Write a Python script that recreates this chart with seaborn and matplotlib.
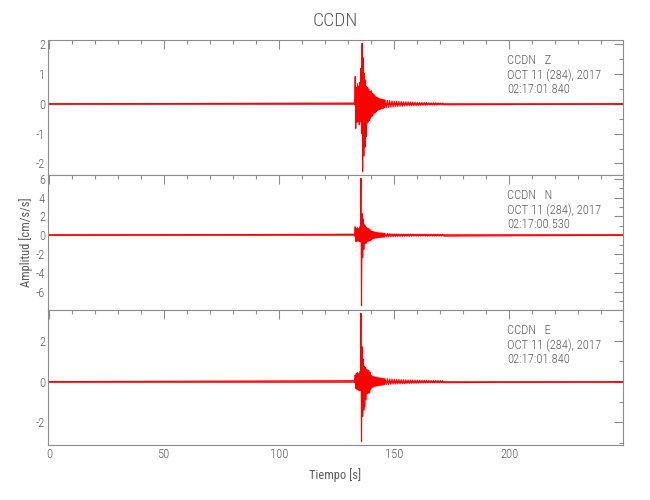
import numpy as np
import pandas as pd
import seaborn as sns
import matplotlib.pyplot as plt
from matplotlib.ticker import MultipleLocator

sns.set_style("white")
plt.rcParams.update(
    {
        "font.family": ["Roboto Condensed", "DejaVu Sans"],
        "font.stretch": "condensed",
        "font.weight": "light",
        "axes.unicode_minus": False,
    }
)

station = "CCDN"
components = ["Z", "N", "E"]
start_times = ["02:17:01.840", "02:17:00.530", "02:17:01.840"]
date_label = "OCT 11 (284), 2017"
t_end = 249.5

# sampling of the strong-motion part (s): 0.5 s steps, then 1 s steps in the coda
t_burst = np.r_[np.arange(132.5, 146.0, 0.5), np.arange(146.0, 172.0, 1.0)]

# upper / lower peaks (cm/s/s)
z_hi = [0.03, 0.92, 0.55, 0.68, 0.60, 0.72, 1.20, 2.04, 1.55, 1.03, 0.80, 0.58, 0.55,
        0.50, 0.42, 0.45, 0.36, 0.33, 0.30, 0.24, 0.22, 0.20, 0.18, 0.17, 0.16, 0.15, 0.14,
        0.13, 0.12, 0.11, 0.10, 0.09, 0.09, 0.08, 0.08, 0.07, 0.07, 0.07, 0.06, 0.06,
        0.06, 0.05, 0.05, 0.05, 0.05, 0.05, 0.04, 0.04, 0.04, 0.04, 0.04, 0.03, 0.03]
z_lo = [-0.03, -0.82, -0.62, -0.58, -0.70, -0.60, -1.00, -2.28, -1.75, -1.45, -1.10, -0.65,
        -0.60, -0.55, -0.48, -0.42, -0.38, -0.32, -0.30, -0.26, -0.22, -0.20, -0.19, -0.17,
        -0.16, -0.15, -0.13,
        -0.13, -0.12, -0.11, -0.10, -0.09, -0.09, -0.08, -0.08, -0.07, -0.07, -0.06, -0.06,
        -0.06, -0.06, -0.05, -0.05, -0.05, -0.05, -0.04, -0.04, -0.04, -0.04, -0.04, -0.03,
        -0.03, -0.03]

n_hi = [0.10, 0.90, 0.75, 0.80, 0.70, 0.90, 6.06, 2.30, 1.70, 1.10, 1.00, 0.80, 0.75,
        0.70, 0.60, 0.45, 0.40, 0.38, 0.35, 0.32, 0.30, 0.28, 0.26, 0.25, 0.24, 0.22, 0.20,
        0.19, 0.18, 0.17, 0.16, 0.15, 0.14, 0.14, 0.13, 0.13, 0.12, 0.12, 0.12, 0.11,
        0.11, 0.11, 0.11, 0.10, 0.10, 0.10, 0.10, 0.10, 0.10, 0.10, 0.10, 0.10, 0.10]
n_lo = [-0.10, -0.65, -0.70, -0.60, -0.65, -0.70, -7.50, -2.40, -1.50, -0.90, -0.85, -0.70,
        -0.65, -0.60, -0.55, -0.45, -0.38, -0.35, -0.32, -0.30, -0.28, -0.26, -0.25, -0.24,
        -0.22, -0.21, -0.20,
        -0.19, -0.18, -0.17, -0.16, -0.15, -0.15, -0.14, -0.13, -0.13, -0.12, -0.12, -0.11,
        -0.11, -0.11, -0.11, -0.10, -0.10, -0.10, -0.10, -0.10, -0.10, -0.10, -0.10, -0.10,
        -0.10, -0.10]

e_hi = [0.05, 0.33, 0.41, 0.45, 0.40, 0.50, 3.37, 1.72, 1.10, 0.74, 0.70, 0.60, 0.57,
        0.55, 0.45, 0.30, 0.27, 0.25, 0.24, 0.22, 0.21, 0.20, 0.19, 0.18, 0.17, 0.16, 0.15,
        0.15, 0.14, 0.13, 0.13, 0.12, 0.11, 0.11, 0.10, 0.10, 0.09, 0.09, 0.08, 0.08,
        0.08, 0.08, 0.07, 0.07, 0.07, 0.07, 0.06, 0.06, 0.06, 0.06, 0.06, 0.06, 0.05]
e_lo = [-0.05, -0.33, -0.41, -0.40, -0.45, -0.45, -2.96, -1.72, -1.40, -1.23, -0.90, -0.60,
        -0.57, -0.55, -0.40, -0.30, -0.28, -0.25, -0.23, -0.22, -0.21, -0.20, -0.18, -0.18,
        -0.17, -0.16, -0.15,
        -0.15, -0.14, -0.13, -0.12, -0.12, -0.11, -0.11, -0.10, -0.10, -0.09, -0.09, -0.08,
        -0.08, -0.08, -0.07, -0.07, -0.07, -0.07, -0.06, -0.06, -0.06, -0.06, -0.06, -0.06,
        -0.05, -0.05]

# half-width of the background noise band of each trace
noise = [0.034, 0.106, 0.05]

y_limits = [(-2.39, 2.15), (-7.95, 6.4), (-3.12, 3.53)]
y_steps = [(1, 0.5), (2, 1), (2, 1)]

axis_color = "#8c8c8c"
text_color = "#5a5a5a"


def make_trace(hi, lo):
    step = np.diff(np.r_[t_burst, t_burst[-1] + 1.0])
    t_lo = t_burst + step / 2
    t = np.column_stack([t_burst, t_lo]).ravel()
    v = np.column_stack([hi, lo]).ravel()
    return pd.DataFrame(
        {"t": np.r_[0.0, t, t_end], "amp": np.r_[0.0, v, 0.0]}
    )


traces = [make_trace(z_hi, z_lo), make_trace(n_hi, n_lo), make_trace(e_hi, e_lo)]

fig, axes = plt.subplots(3, 1, figsize=(6.5, 5), dpi=100, sharex=True)
fig.subplots_adjust(left=0.0734, right=0.959, top=0.92, bottom=0.11, hspace=0)

for i, ax in enumerate(axes):
    ax.fill_between([0, t_end], -noise[i], noise[i], color="red", alpha=0.8, lw=0)
    sns.lineplot(
        data=traces[i], x="t", y="amp", ax=ax, sort=False, estimator=None,
        color="#ff0000", lw=0.8,
    )
    ax.set_xlim(-0.7, 249.6)
    ax.set_ylim(*y_limits[i])
    ax.xaxis.set_major_locator(MultipleLocator(50))
    ax.xaxis.set_minor_locator(MultipleLocator(10))
    ax.yaxis.set_major_locator(MultipleLocator(y_steps[i][0]))
    ax.yaxis.set_minor_locator(MultipleLocator(y_steps[i][1]))
    ax.tick_params(which="both", direction="in", top=True, right=True,
                   color=axis_color, labelcolor=text_color, labelsize=9, pad=2)
    ax.tick_params(which="major", length=6.5, width=0.8)
    ax.tick_params(which="minor", length=3.2, width=0.8)
    for s in ax.spines.values():
        s.set_color(axis_color)
        s.set_linewidth(0.8)
    ax.set_xlabel("")
    ax.set_ylabel("")
    ax.text(0.798, 0.741,
            f"{station}   {components[i]}\n{date_label}\n{start_times[i]}",
            transform=ax.transAxes, ha="left", va="center", fontsize=9,
            color=text_color, linespacing=1.15)

axes[1].set_ylabel("Amplitud [cm/s/s]", fontsize=9, color=text_color, labelpad=2)
axes[2].set_xlabel("Tiempo [s]", fontsize=9, color=text_color, labelpad=5)
fig.text(0.516, 0.958, station, ha="center", va="center", fontsize=14, color=text_color)

fig.savefig("out.png", dpi=100)
